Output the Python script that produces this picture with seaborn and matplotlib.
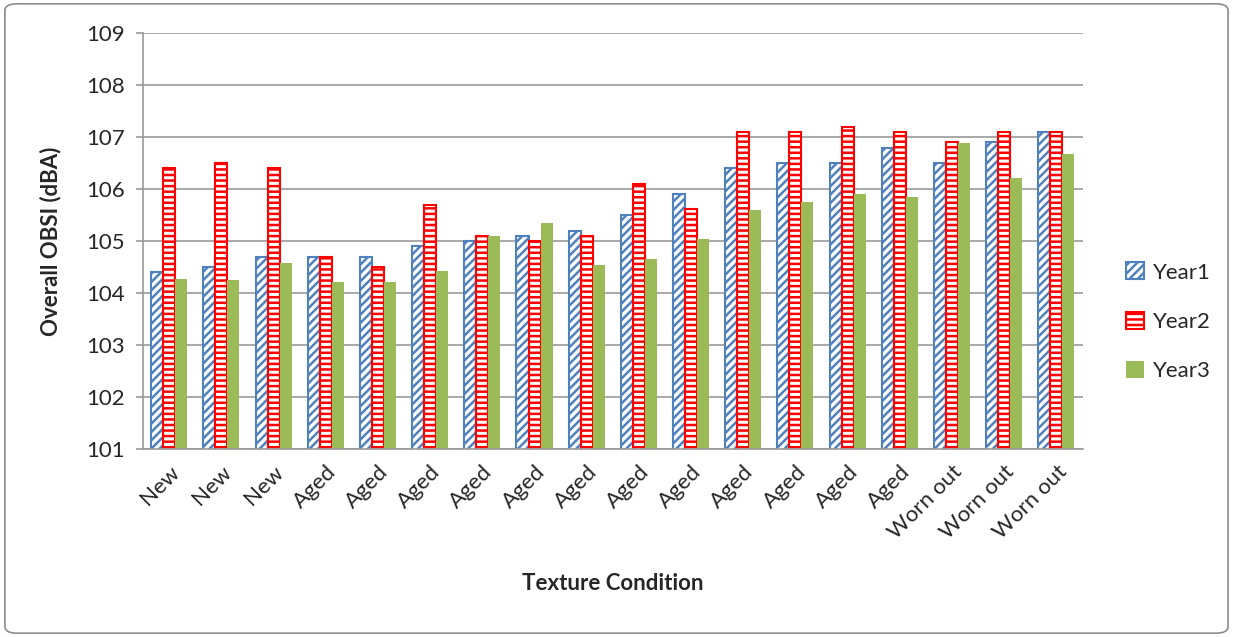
import pandas as pd
import matplotlib.pyplot as plt
import seaborn as sns
from matplotlib.patches import Patch, FancyBboxPatch
from matplotlib.ticker import FixedLocator

# data
conditions = ['New', 'New', 'New', 'Aged', 'Aged', 'Aged', 'Aged', 'Aged', 'Aged',
              'Aged', 'Aged', 'Aged', 'Aged', 'Aged', 'Aged', 'Worn out', 'Worn out', 'Worn out']
year1 = [104.4, 104.5, 104.7, 104.7, 104.7, 104.9, 105.0, 105.1, 105.2,
         105.5, 105.9, 106.4, 106.5, 106.5, 106.8, 106.5, 106.9, 107.1]
year2 = [106.4, 106.5, 106.4, 104.7, 104.5, 105.7, 105.1, 105.0, 105.1,
         106.1, 105.62, 107.1, 107.1, 107.2, 107.1, 106.9, 107.1, 107.1]
year3 = [104.28, 104.25, 104.57, 104.22, 104.22, 104.42, 105.1, 105.35, 104.55,
         104.65, 105.05, 105.6, 105.75, 105.9, 105.85, 106.88, 106.22, 106.67]
years = ['Year1', 'Year2', 'Year3']

blue = '#4F81BD'
red = '#FF0000'
green = '#9BBB59'

df = pd.DataFrame({'pos': list(range(len(conditions))) * 3,
                   'value': year1 + year2 + year3,
                   'year': [y for y in years for _ in conditions]})

sns.set_style('white')
plt.rcParams['font.family'] = ['Lato', 'DejaVu Sans']
plt.rcParams['hatch.linewidth'] = 1.8

fig = plt.figure(figsize=(12.33, 6.37), dpi=100)
ax = fig.add_axes([0.116, 0.295, 0.762, 0.653])

sns.barplot(data=df, x='pos', y='value', hue='year', hue_order=years,
            palette=[blue, red, green], width=0.69, gap=0, ax=ax, legend=False)

styles = {0: ('white', blue, '////'), 1: ('white', red, '---'), 2: (green, green, '')}
for i, cont in enumerate(ax.containers):
    fc, ec, h = styles[i]
    for bar in cont:
        bar.set_facecolor(fc)
        bar.set_edgecolor(ec)
        bar.set_hatch(h)
        bar.set_linewidth(1.5 if i < 2 else 0)

ax.set_ylim(101, 109)
ax.set_xlim(-0.5, len(conditions) - 0.5)
ax.set_yticks(range(101, 110))
ax.yaxis.grid(True, color='#9a9a9a', linewidth=1.2)
ax.set_axisbelow(True)

ax.set_xticks(range(len(conditions)))
ax.set_xticklabels(conditions, rotation=45, ha='right', rotation_mode='anchor', fontsize=16)
ax.tick_params(axis='x', length=0, pad=9)
ax.xaxis.set_minor_locator(FixedLocator([k - 0.5 for k in range(len(conditions) + 1)]))
ax.tick_params(axis='x', which='minor', length=6, color='#9a9a9a', width=1.2)
ax.tick_params(axis='y', labelsize=16, length=5, color='#9a9a9a', width=1.2, left=True, pad=8)

for s in ['top', 'right']:
    ax.spines[s].set_visible(False)
for s in ['left', 'bottom']:
    ax.spines[s].set_color('#9a9a9a')
    ax.spines[s].set_linewidth(1.2)

ax.set_xlabel('Texture Condition', fontsize=16, fontweight='bold', labelpad=22)
ax.set_ylabel('Overall OBSI (dBA)', fontsize=16, fontweight='bold', labelpad=18)

handles = [Patch(facecolor=styles[i][0], edgecolor=styles[i][1], hatch=styles[i][2],
                 linewidth=1.5 if i < 2 else 0, label=years[i]) for i in range(3)]
fig.legend(handles=handles, loc='center left', bbox_to_anchor=(0.897, 0.495),
           frameon=False, fontsize=16, labelspacing=1.3, handlelength=0.8,
           handleheight=0.8, handletextpad=0.4)

border = FancyBboxPatch((0.004, 0.006), 0.992, 0.988, boxstyle='round,pad=0,rounding_size=0.01',
                        transform=fig.transFigure, fill=False, edgecolor='#8c8c8c', linewidth=1.2)
fig.patches.append(border)

plt.savefig('out.png', dpi=100)
